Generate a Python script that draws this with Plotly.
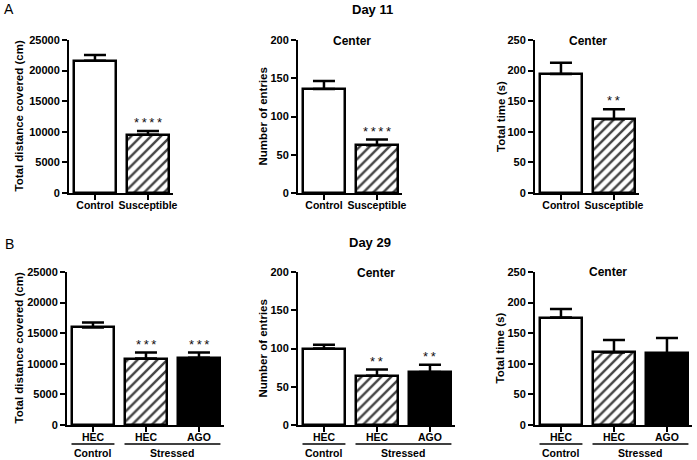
import plotly.graph_objects as go

W, H = 697, 460

# ---------------- data ----------------
day11_groups = ["Control", "Susceptible"]
day11_distance = [21600, 9500]
day11_distance_sem = [950, 650]
day11_entries = [136, 62.5]
day11_entries_sem = [10.5, 7.4]
day11_time = [194.5, 120.5]
day11_time_sem = [18.5, 16.4]
day11_distance_stars = ["", "****"]
day11_entries_stars = ["", "****"]
day11_time_stars = ["", "**"]

day29_treatments = ["HEC", "HEC", "AGO"]
day29_conditions = ["Control", "Stressed"]
day29_condition_members = [[0], [1, 2]]
day29_distance = [15950, 10850, 11000]
day29_distance_sem = [800, 980, 830]
day29_entries = [100, 64.5, 69.3]
day29_entries_sem = [5, 8, 9.3]
day29_time = [175.5, 118.5, 117]
day29_time_sem = [14.2, 20.3, 25]
day29_distance_stars = ["", "***", "***"]
day29_entries_stars = ["", "**", "**"]
day29_time_stars = ["", "", ""]

# ---------------- styling ----------------
FONT = "Liberation Sans, Arial, Helvetica, sans-serif"
PX_PER_UNIT = 53.0
BAR_W = 0.81

panels = [
    dict(x0=69, top=40, bot=193, v=day11_distance, e=day11_distance_sem, s=day11_distance_stars,
         labels=day11_groups, ytitle="Total distance covered (cm)", ymax=25000, dtick=5000, tx=18, center=None),
    dict(x0=298, top=40, bot=193, v=day11_entries, e=day11_entries_sem, s=day11_entries_stars,
         labels=day11_groups, ytitle="Number of entries", ymax=200, dtick=50, tx=262, center=(352, 41)),
    dict(x0=535, top=40, bot=193, v=day11_time, e=day11_time_sem, s=day11_time_stars,
         labels=day11_groups, ytitle="Total time (s)", ymax=250, dtick=50, tx=500.5, center=(588, 41)),
    dict(x0=67, top=272, bot=425, v=day29_distance, e=day29_distance_sem, s=day29_distance_stars,
         labels=day29_treatments, ytitle="Total distance covered (cm)", ymax=25000, dtick=5000, tx=18, center=None),
    dict(x0=298, top=272, bot=425, v=day29_entries, e=day29_entries_sem, s=day29_entries_stars,
         labels=day29_treatments, ytitle="Number of entries", ymax=200, dtick=50, tx=262, center=(376, 273)),
    dict(x0=535, top=272, bot=425, v=day29_time, e=day29_time_sem, s=day29_time_stars,
         labels=day29_treatments, ytitle="Total time (s)", ymax=250, dtick=50, tx=499, center=(608, 272)),
]

fill_colors = ["white", "white", "black"]
pattern_shapes = ["", "/", ""]

fig = go.Figure()
layout = dict(
    width=W, height=H, autosize=False,
    margin=dict(l=0, r=0, t=0, b=0, pad=0, autoexpand=False),
    paper_bgcolor="white", plot_bgcolor="white",
    showlegend=False,
    font=dict(family=FONT, color="black"),
    bargap=0,
)
annotations = []
shapes = []

for k, p in enumerate(panels, start=1):
    n = len(p["v"])
    xs = list(range(n))
    xa = "x" if k == 1 else f"x{k}"
    ya = "y" if k == 1 else f"y{k}"
    fig.add_trace(go.Bar(
        x=xs, y=p["v"], width=[BAR_W] * n,
        xaxis=xa, yaxis=ya,
        marker=dict(
            color=fill_colors[:n],
            line=dict(color="black", width=2.5),
            pattern=dict(shape=pattern_shapes[:n], fillmode="overlay", fgcolor="black",
                         fgopacity=1, size=7, solidity=0.35),
        ),
        error_y=dict(type="data", symmetric=False, array=p["e"], arrayminus=[0] * n,
                     color="black", thickness=2.5, width=11),
        hoverinfo="skip",
    ))
    x_lo = -0.49
    x_hi = n - 1 + 0.47
    dom_w = (x_hi - x_lo) * PX_PER_UNIT
    xdom = [p["x0"] / W, (p["x0"] + dom_w) / W]
    ydom = [1 - p["bot"] / H, 1 - p["top"] / H]
    layout["xaxis" if k == 1 else f"xaxis{k}"] = dict(
        domain=xdom, anchor=ya, range=[x_lo, x_hi], automargin=False,
        tickmode="array", tickvals=xs, ticktext=p["labels"],
        showline=True, linecolor="black", linewidth=2,
        ticks="outside", ticklen=5, tickwidth=2, tickcolor="black",
        ticklabelstandoff=-4,
        tickfont=dict(family=FONT, size=10.5, color="black", weight="bold"),
        showgrid=False, zeroline=False, fixedrange=True,
    )
    layout["yaxis" if k == 1 else f"yaxis{k}"] = dict(
        domain=ydom, anchor=xa, range=[0, p["ymax"]], automargin=False,
        tickmode="linear", tick0=0, dtick=p["dtick"], tickformat="d",
        showline=True, linecolor="black", linewidth=2,
        ticks="outside", ticklen=5, tickwidth=2, tickcolor="black",
        tickfont=dict(family=FONT, size=11, color="black", weight="bold"),
        showgrid=False, zeroline=False, fixedrange=True,
    )
    annotations.append(dict(
        text=p["ytitle"], xref="paper", yref="paper",
        x=p["tx"] / W, y=1 - (p["top"] + p["bot"]) / 2 / H,
        xanchor="center", yanchor="middle", textangle=-90, showarrow=False,
        font=dict(family=FONT, size=11.5, color="black", weight="bold"),
    ))
    if p["center"]:
        cx, cy = p["center"]
        annotations.append(dict(
            text="Center", xref="paper", yref="paper", x=cx / W, y=1 - cy / H,
            xanchor="center", yanchor="middle", showarrow=False,
            font=dict(family=FONT, size=12, color="black", weight="bold"),
        ))
    for i in range(n):
        if p["s"][i]:
            annotations.append(dict(
                text="\u2009".join(p["s"][i]), xref=xa, yref=ya,
                x=xs[i], y=p["v"][i] + p["e"][i],
                xanchor="center", yanchor="bottom", showarrow=False, yshift=-1,
                font=dict(family=FONT, size=13, color="#111"),
            ))
    if n == 3:
        for cond, members in zip(day29_conditions, day29_condition_members):
            x0 = members[0] - BAR_W / 2
            x1 = members[-1] + BAR_W / 2
            shapes.append(dict(type="line", xref=xa, yref="paper",
                               x0=x0, x1=x1, y0=1 - 444 / H, y1=1 - 444 / H,
                               line=dict(color="black", width=1.3)))
            annotations.append(dict(
                text=cond, xref=xa, yref="paper", x=(members[0] + members[-1]) / 2,
                y=1 - 453 / H, xanchor="center", yanchor="middle", showarrow=False,
                font=dict(family=FONT, size=10.5, color="black", weight="bold"),
            ))

annotations += [
    dict(text="A", xref="paper", yref="paper", x=9 / W, y=1 - 9 / H, xanchor="center", yanchor="middle",
         showarrow=False, font=dict(family=FONT, size=14, color="black")),
    dict(text="B", xref="paper", yref="paper", x=9 / W, y=1 - 244 / H, xanchor="center", yanchor="middle",
         showarrow=False, font=dict(family=FONT, size=14, color="black")),
    dict(text="Day 11", xref="paper", yref="paper", x=372.5 / W, y=1 - 9 / H, xanchor="center",
         yanchor="middle", showarrow=False, font=dict(family=FONT, size=13, color="black", weight="bold")),
    dict(text="Day 29", xref="paper", yref="paper", x=369.5 / W, y=1 - 243 / H, xanchor="center",
         yanchor="middle", showarrow=False, font=dict(family=FONT, size=13, color="black", weight="bold")),
]

layout["annotations"] = annotations
layout["shapes"] = shapes
fig.update_layout(**layout)
fig.write_html("out.html", config={"displayModeBar": False},
               post_script="document.body.style.margin='0';")
